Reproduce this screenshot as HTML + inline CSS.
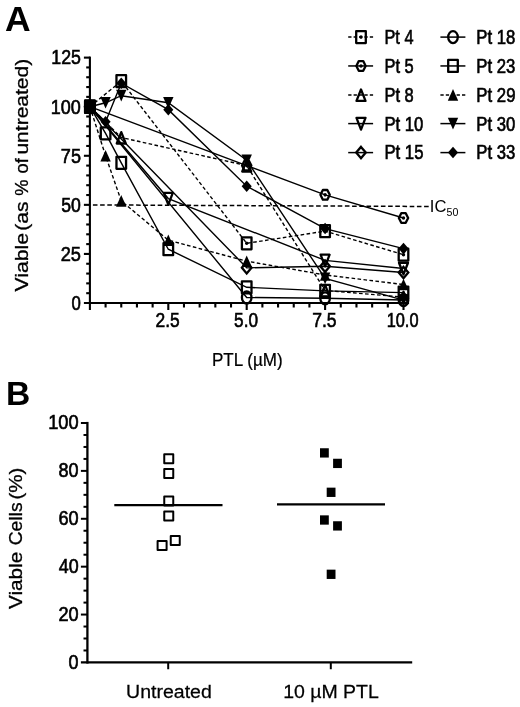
<!DOCTYPE html>
<html><head><meta charset="utf-8"><title>Figure</title>
<style>html,body{margin:0;padding:0;background:#fff;}svg{display:block;will-change:transform;}text{font-family:"Liberation Sans", sans-serif;fill:#000;}</style>
</head><body>
<svg width="520" height="707" viewBox="0 0 520 707">
<rect width="520" height="707" fill="#fff"/>
<text transform="translate(5.01,30.5) scale(1.0387,1)" font-size="34.2" font-weight="bold">A</text>
<text transform="translate(5.93,405.2) scale(1.0002,1)" font-size="33.6" font-weight="bold">B</text>
<g stroke="#000" stroke-width="2.1" fill="none">
<path d="M89.9 56.58 V310"/>
<path d="M83.9 303 H404.55"/>
<path d="M86.2 293.19 H89.9"/>
<path d="M86.2 283.37 H89.9"/>
<path d="M86.2 273.56 H89.9"/>
<path d="M86.2 263.74 H89.9"/>
<path d="M83.9 253.93 H89.9"/>
<path d="M86.2 244.11 H89.9"/>
<path d="M86.2 234.3 H89.9"/>
<path d="M86.2 224.48 H89.9"/>
<path d="M86.2 214.66 H89.9"/>
<path d="M83.9 204.85 H89.9"/>
<path d="M86.2 195.03 H89.9"/>
<path d="M86.2 185.22 H89.9"/>
<path d="M86.2 175.41 H89.9"/>
<path d="M86.2 165.59 H89.9"/>
<path d="M83.9 155.78 H89.9"/>
<path d="M86.2 145.96 H89.9"/>
<path d="M86.2 136.14 H89.9"/>
<path d="M86.2 126.33 H89.9"/>
<path d="M86.2 116.51 H89.9"/>
<path d="M83.9 106.7 H89.9"/>
<path d="M86.2 96.88 H89.9"/>
<path d="M86.2 87.07 H89.9"/>
<path d="M86.2 77.25 H89.9"/>
<path d="M86.2 67.44 H89.9"/>
<path d="M83.9 57.62 H89.9"/>
<path d="M105.58 303 V307.5"/>
<path d="M121.26 303 V307.5"/>
<path d="M136.94 303 V307.5"/>
<path d="M152.62 303 V307.5"/>
<path d="M168.3 303 V310"/>
<path d="M183.98 303 V307.5"/>
<path d="M199.66 303 V307.5"/>
<path d="M215.34 303 V307.5"/>
<path d="M231.02 303 V307.5"/>
<path d="M246.7 303 V310"/>
<path d="M262.38 303 V307.5"/>
<path d="M278.06 303 V307.5"/>
<path d="M293.74 303 V307.5"/>
<path d="M309.42 303 V307.5"/>
<path d="M325.1 303 V310"/>
<path d="M340.78 303 V307.5"/>
<path d="M356.46 303 V307.5"/>
<path d="M372.14 303 V307.5"/>
<path d="M387.82 303 V307.5"/>
<path d="M403.5 303 V310"/>
</g>
<text transform="translate(71.53,309.8) scale(0.8016,1)" font-size="20.9" stroke="#000" stroke-width="0.65">0</text>
<text transform="translate(60.69,260.73) scale(0.8725,1)" font-size="20.9" stroke="#000" stroke-width="0.65">25</text>
<text transform="translate(61.29,211.65) scale(0.8434,1)" font-size="20.9" stroke="#000" stroke-width="0.65">50</text>
<text transform="translate(60.85,162.58) scale(0.8652,1)" font-size="20.9" stroke="#000" stroke-width="0.65">75</text>
<text transform="translate(50.85,113.5) scale(0.8616,1)" font-size="20.9" stroke="#000" stroke-width="0.65">100</text>
<text transform="translate(51.27,64.42) scale(0.8506,1)" font-size="20.9" stroke="#000" stroke-width="0.65">125</text>
<text transform="translate(155.53,327.3) scale(0.8318,1)" font-size="20.9" stroke="#000" stroke-width="0.65">2.5</text>
<text transform="translate(234.11,327.3) scale(0.8239,1)" font-size="20.9" stroke="#000" stroke-width="0.65">5.0</text>
<text transform="translate(312.18,327.3) scale(0.8408,1)" font-size="20.9" stroke="#000" stroke-width="0.65">7.5</text>
<text transform="translate(386.67,327.3) scale(0.7833,1)" font-size="20.9" stroke="#000" stroke-width="0.65">10.0</text>
<text transform="translate(212,366.1) scale(0.8869,1)" font-size="19.2" stroke="#000" stroke-width="0.25">PTL (µM)</text>
<text transform="translate(28.2,291.61) rotate(-90) scale(1.1950,1)" font-size="17.8" stroke="#000" stroke-width="0.3">Viable</text>
<text transform="translate(28.2,230.82) rotate(-90) scale(1.1910,1)" font-size="17.8" stroke="#000" stroke-width="0.3">(as</text>
<text transform="translate(28.2,195.84) rotate(-90) scale(1.0239,1)" font-size="17.8" stroke="#000" stroke-width="0.3">%</text>
<text transform="translate(28.2,173.48) rotate(-90) scale(1.0279,1)" font-size="17.8" stroke="#000" stroke-width="0.3">of</text>
<text transform="translate(28.2,154.57) rotate(-90) scale(1.1819,1)" font-size="17.8" stroke="#000" stroke-width="0.3">untreated)</text>
<path d="M92.9 204.9 L428.8 206.5" stroke="#000" stroke-width="1.5" stroke-dasharray="4.6 2.6" fill="none"/>
<text transform="translate(429.86,211.9) scale(1.0000,1)" font-size="16.6">IC</text>
<text transform="translate(446.57,215.9) scale(1.0244,1)" font-size="10.4">50</text>
<path d="M89.9 106.7 L121.26 81.18 L246.7 243.32 L325.1 231.15 L403.5 254.71" fill="none" stroke="#000" stroke-width="1.4" stroke-dasharray="3.6 2.4"/>
<path d="M89.9 106.7 L246.7 165.59 L325.1 194.84 L403.5 218" fill="none" stroke="#000" stroke-width="1.4"/>
<path d="M89.9 106.7 L121.26 137.52 L246.7 165.59 L325.1 290.44 L403.5 297.11" fill="none" stroke="#000" stroke-width="1.4" stroke-dasharray="3.6 2.4"/>
<path d="M89.9 106.7 L168.3 198.57 L325.1 260.4 L403.5 268.45" fill="none" stroke="#000" stroke-width="1.4"/>
<path d="M89.9 106.7 L246.7 267.86 L325.1 266.29 L403.5 272.57" fill="none" stroke="#000" stroke-width="1.4"/>
<path d="M89.9 106.7 L246.7 297.5 L325.1 298.29 L403.5 300.06" fill="none" stroke="#000" stroke-width="1.4"/>
<path d="M89.9 106.7 L105.58 133.4 L121.26 162.84 L168.3 249.21 L246.7 287.3 L325.1 290.83 L403.5 292.6" fill="none" stroke="#000" stroke-width="1.4"/>
<path d="M89.9 106.7 L105.58 155.78 L121.26 200.92 L168.3 240.18 L246.7 261.19 L325.1 274.93 L403.5 284.55" fill="none" stroke="#000" stroke-width="1.4" stroke-dasharray="3.6 2.4"/>
<path d="M89.9 106.7 L105.58 102.77 L121.26 95.71 L168.3 102.77 L246.7 160.29 L325.1 278.46 L403.5 300.06" fill="none" stroke="#000" stroke-width="1.4"/>
<path d="M89.9 106.7 L105.58 121.82 L121.26 83.14 L168.3 109.64 L246.7 186.2 L325.1 228.6 L403.5 248.62" fill="none" stroke="#000" stroke-width="1.4"/>
<rect x="85.1" y="100.7" width="9.6" height="12" fill="none" stroke="#000" stroke-width="2.3" stroke-linejoin="round"/>
<ellipse cx="89.9" cy="106.7" rx="1.7" ry="1.8" fill="#000"/>
<rect x="116.46" y="75.18" width="9.6" height="12" fill="none" stroke="#000" stroke-width="2.3" stroke-linejoin="round"/>
<ellipse cx="121.26" cy="81.18" rx="1.7" ry="1.8" fill="#000"/>
<rect x="241.9" y="237.32" width="9.6" height="12" fill="none" stroke="#000" stroke-width="2.3" stroke-linejoin="round"/>
<ellipse cx="246.7" cy="243.32" rx="1.7" ry="1.8" fill="#000"/>
<rect x="320.3" y="225.15" width="9.6" height="12" fill="none" stroke="#000" stroke-width="2.3" stroke-linejoin="round"/>
<ellipse cx="325.1" cy="231.15" rx="1.7" ry="1.8" fill="#000"/>
<rect x="398.7" y="248.71" width="9.6" height="12" fill="none" stroke="#000" stroke-width="2.3" stroke-linejoin="round"/>
<ellipse cx="403.5" cy="254.71" rx="1.7" ry="1.8" fill="#000"/>
<polygon points="85.24,106.7 87.67,101.84 92.13,101.84 94.56,106.7 92.13,111.56 87.67,111.56" fill="none" stroke="#000" stroke-width="2.3" stroke-linejoin="round"/>
<ellipse cx="89.9" cy="106.7" rx="1.7" ry="1.8" fill="#000"/>
<polygon points="242.04,165.59 244.47,160.73 248.93,160.73 251.36,165.59 248.93,170.45 244.47,170.45" fill="none" stroke="#000" stroke-width="2.3" stroke-linejoin="round"/>
<ellipse cx="246.7" cy="165.59" rx="1.7" ry="1.8" fill="#000"/>
<polygon points="320.44,194.84 322.87,189.98 327.33,189.98 329.76,194.84 327.33,199.7 322.87,199.7" fill="none" stroke="#000" stroke-width="2.3" stroke-linejoin="round"/>
<ellipse cx="325.1" cy="194.84" rx="1.7" ry="1.8" fill="#000"/>
<polygon points="398.84,218 401.27,213.14 405.73,213.14 408.16,218 405.73,222.86 401.27,222.86" fill="none" stroke="#000" stroke-width="2.3" stroke-linejoin="round"/>
<ellipse cx="403.5" cy="218" rx="1.7" ry="1.8" fill="#000"/>
<polygon points="89.9,101.3 94.41,112.7 85.39,112.7" fill="none" stroke="#000" stroke-width="2.3" stroke-linejoin="round"/>
<polygon points="121.26,132.12 125.77,143.52 116.75,143.52" fill="none" stroke="#000" stroke-width="2.3" stroke-linejoin="round"/>
<polygon points="246.7,160.19 251.21,171.59 242.19,171.59" fill="none" stroke="#000" stroke-width="2.3" stroke-linejoin="round"/>
<polygon points="325.1,285.04 329.61,296.44 320.59,296.44" fill="none" stroke="#000" stroke-width="2.3" stroke-linejoin="round"/>
<polygon points="403.5,291.71 408.01,303.11 398.99,303.11" fill="none" stroke="#000" stroke-width="2.3" stroke-linejoin="round"/>
<polygon points="89.9,112.7 94.41,101 85.39,101" fill="none" stroke="#000" stroke-width="2.3" stroke-linejoin="round"/>
<polygon points="168.3,204.57 172.81,192.87 163.79,192.87" fill="none" stroke="#000" stroke-width="2.3" stroke-linejoin="round"/>
<polygon points="325.1,266.4 329.61,254.7 320.59,254.7" fill="none" stroke="#000" stroke-width="2.3" stroke-linejoin="round"/>
<polygon points="403.5,274.45 408.01,262.75 398.99,262.75" fill="none" stroke="#000" stroke-width="2.3" stroke-linejoin="round"/>
<polygon points="89.9,101 94.7,106.7 89.9,112.4 85.1,106.7" fill="none" stroke="#000" stroke-width="2.3" stroke-linejoin="miter"/>
<polygon points="246.7,262.16 251.5,267.86 246.7,273.56 241.9,267.86" fill="none" stroke="#000" stroke-width="2.3" stroke-linejoin="miter"/>
<polygon points="325.1,260.59 329.9,266.29 325.1,271.99 320.3,266.29" fill="none" stroke="#000" stroke-width="2.3" stroke-linejoin="miter"/>
<polygon points="403.5,266.87 408.3,272.57 403.5,278.27 398.7,272.57" fill="none" stroke="#000" stroke-width="2.3" stroke-linejoin="miter"/>
<ellipse cx="89.9" cy="106.7" rx="4.8" ry="6" fill="none" stroke="#000" stroke-width="2.3"/>
<ellipse cx="246.7" cy="297.5" rx="4.8" ry="6" fill="none" stroke="#000" stroke-width="2.3"/>
<ellipse cx="325.1" cy="298.29" rx="4.8" ry="6" fill="none" stroke="#000" stroke-width="2.3"/>
<ellipse cx="403.5" cy="300.06" rx="4.8" ry="6" fill="none" stroke="#000" stroke-width="2.3"/>
<rect x="85.1" y="100.7" width="9.6" height="12" fill="none" stroke="#000" stroke-width="2.3" stroke-linejoin="round"/>
<rect x="100.78" y="127.4" width="9.6" height="12" fill="none" stroke="#000" stroke-width="2.3" stroke-linejoin="round"/>
<rect x="116.46" y="156.84" width="9.6" height="12" fill="none" stroke="#000" stroke-width="2.3" stroke-linejoin="round"/>
<rect x="163.5" y="243.21" width="9.6" height="12" fill="none" stroke="#000" stroke-width="2.3" stroke-linejoin="round"/>
<rect x="241.9" y="281.3" width="9.6" height="12" fill="none" stroke="#000" stroke-width="2.3" stroke-linejoin="round"/>
<rect x="320.3" y="284.83" width="9.6" height="12" fill="none" stroke="#000" stroke-width="2.3" stroke-linejoin="round"/>
<rect x="398.7" y="286.6" width="9.6" height="12" fill="none" stroke="#000" stroke-width="2.3" stroke-linejoin="round"/>
<polygon points="89.9,100.9 95.1,112.5 84.7,112.5" fill="#000"/>
<polygon points="105.58,149.97 110.78,161.58 100.38,161.58" fill="#000"/>
<polygon points="121.26,195.12 126.46,206.72 116.06,206.72" fill="#000"/>
<polygon points="168.3,234.38 173.5,245.98 163.1,245.98" fill="#000"/>
<polygon points="246.7,255.39 251.9,266.99 241.5,266.99" fill="#000"/>
<polygon points="325.1,269.13 330.3,280.73 319.9,280.73" fill="#000"/>
<polygon points="403.5,278.75 408.7,290.35 398.3,290.35" fill="#000"/>
<polygon points="89.9,112.55 95.1,100.85 84.7,100.85" fill="#000"/>
<polygon points="105.58,108.62 110.78,96.92 100.38,96.92" fill="#000"/>
<polygon points="121.26,101.56 126.46,89.86 116.06,89.86" fill="#000"/>
<polygon points="168.3,108.62 173.5,96.92 163.1,96.92" fill="#000"/>
<polygon points="246.7,166.14 251.9,154.44 241.5,154.44" fill="#000"/>
<polygon points="325.1,284.31 330.3,272.61 319.9,272.61" fill="#000"/>
<polygon points="403.5,305.91 408.7,294.21 398.3,294.21" fill="#000"/>
<polygon points="89.9,100.93 94.95,106.7 89.9,112.47 84.85,106.7" fill="#000"/>
<polygon points="105.58,116.05 110.63,121.82 105.58,127.58 100.53,121.82" fill="#000"/>
<polygon points="121.26,77.38 126.31,83.14 121.26,88.91 116.21,83.14" fill="#000"/>
<polygon points="168.3,103.88 173.35,109.64 168.3,115.41 163.25,109.64" fill="#000"/>
<polygon points="246.7,180.43 251.75,186.2 246.7,191.97 241.65,186.2" fill="#000"/>
<polygon points="325.1,222.83 330.15,228.6 325.1,234.37 320.05,228.6" fill="#000"/>
<polygon points="403.5,242.86 408.55,248.62 403.5,254.39 398.45,248.62" fill="#000"/>
<rect x="84.1" y="99.9" width="11.6" height="13.6" fill="#000"/>
<path d="M348.2 37.1 H373.1" fill="none" stroke="#000" stroke-width="1.5" stroke-dasharray="3.3 2.1"/>
<rect x="356.2" y="31.1" width="9.6" height="12" fill="none" stroke="#000" stroke-width="2.3" stroke-linejoin="round"/>
<ellipse cx="361" cy="37.1" rx="1.7" ry="1.8" fill="#000"/>
<text transform="translate(384.45,44) scale(0.8035,1)" font-size="20.3" stroke="#000" stroke-width="0.65">Pt 4</text>
<path d="M348.2 65.95 H373.1" fill="none" stroke="#000" stroke-width="1.5"/>
<polygon points="356.34,65.95 358.77,61.09 363.23,61.09 365.66,65.95 363.23,70.81 358.77,70.81" fill="none" stroke="#000" stroke-width="2.3" stroke-linejoin="round"/>
<ellipse cx="361" cy="65.95" rx="1.7" ry="1.8" fill="#000"/>
<text transform="translate(384.44,72.8) scale(0.8096,1)" font-size="20.3" stroke="#000" stroke-width="0.65">Pt 5</text>
<path d="M348.2 94.9 H373.1" fill="none" stroke="#000" stroke-width="1.5" stroke-dasharray="3.3 2.1"/>
<polygon points="361,89.5 365.51,100.9 356.49,100.9" fill="none" stroke="#000" stroke-width="2.3" stroke-linejoin="round"/>
<text transform="translate(384.44,101.7) scale(0.8108,1)" font-size="20.3" stroke="#000" stroke-width="0.65">Pt 8</text>
<path d="M348.2 123.6 H373.1" fill="none" stroke="#000" stroke-width="1.5"/>
<polygon points="361,129.6 365.51,117.9 356.49,117.9" fill="none" stroke="#000" stroke-width="2.3" stroke-linejoin="round"/>
<text transform="translate(384.42,130.6) scale(0.8229,1)" font-size="20.3" stroke="#000" stroke-width="0.65">Pt 10</text>
<path d="M348.2 152.6 H373.1" fill="none" stroke="#000" stroke-width="1.5"/>
<polygon points="361,146.9 365.8,152.6 361,158.3 356.2,152.6" fill="none" stroke="#000" stroke-width="2.3" stroke-linejoin="miter"/>
<text transform="translate(384.42,159.3) scale(0.8238,1)" font-size="20.3" stroke="#000" stroke-width="0.65">Pt 15</text>
<path d="M440.4 37.1 H465.4" fill="none" stroke="#000" stroke-width="1.5"/>
<ellipse cx="453" cy="37.1" rx="4.8" ry="6" fill="none" stroke="#000" stroke-width="2.3"/>
<text transform="translate(476.32,44) scale(0.8247,1)" font-size="20.3" stroke="#000" stroke-width="0.65">Pt 18</text>
<path d="M440.4 65.95 H465.4" fill="none" stroke="#000" stroke-width="1.5"/>
<rect x="448.2" y="59.95" width="9.6" height="12" fill="none" stroke="#000" stroke-width="2.3" stroke-linejoin="round"/>
<text transform="translate(476.32,72.8) scale(0.8247,1)" font-size="20.3" stroke="#000" stroke-width="0.65">Pt 23</text>
<path d="M440.4 94.9 H465.4" fill="none" stroke="#000" stroke-width="1.5" stroke-dasharray="3.3 2.1"/>
<polygon points="453,89.1 458.2,100.7 447.8,100.7" fill="#000"/>
<text transform="translate(476.32,101.7) scale(0.8257,1)" font-size="20.3" stroke="#000" stroke-width="0.65">Pt 29</text>
<path d="M440.4 123.6 H465.4" fill="none" stroke="#000" stroke-width="1.5"/>
<polygon points="453,129.45 458.2,117.75 447.8,117.75" fill="#000"/>
<text transform="translate(476.32,130.6) scale(0.8229,1)" font-size="20.3" stroke="#000" stroke-width="0.65">Pt 30</text>
<path d="M440.4 152.6 H465.4" fill="none" stroke="#000" stroke-width="1.5"/>
<polygon points="453,146.83 458.05,152.6 453,158.37 447.95,152.6" fill="#000"/>
<text transform="translate(476.32,159.3) scale(0.8247,1)" font-size="20.3" stroke="#000" stroke-width="0.65">Pt 33</text>
<g stroke="#000" stroke-width="2.3" fill="none">
<path d="M87.4 421.9 V663.6"/>
<path d="M80.9 662.45 H412.2"/>
</g>
<g stroke="#000" stroke-width="2" fill="none">
<path d="M83.5 650.48 H87.4"/>
<path d="M83.5 638.5 H87.4"/>
<path d="M83.5 626.53 H87.4"/>
<path d="M80.9 614.56 H87.4"/>
<path d="M83.5 602.59 H87.4"/>
<path d="M83.5 590.62 H87.4"/>
<path d="M83.5 578.64 H87.4"/>
<path d="M80.9 566.67 H87.4"/>
<path d="M83.5 554.7 H87.4"/>
<path d="M83.5 542.73 H87.4"/>
<path d="M83.5 530.75 H87.4"/>
<path d="M80.9 518.78 H87.4"/>
<path d="M83.5 506.81 H87.4"/>
<path d="M83.5 494.84 H87.4"/>
<path d="M83.5 482.86 H87.4"/>
<path d="M80.9 470.89 H87.4"/>
<path d="M83.5 458.92 H87.4"/>
<path d="M83.5 446.95 H87.4"/>
<path d="M83.5 434.97 H87.4"/>
<path d="M80.9 423 H87.4"/>
<path d="M168.2 662.45 V669.25"/>
<path d="M330.8 662.45 V669.25"/>
</g>
<text transform="translate(68.58,668.85) scale(0.8617,1)" font-size="20.9" stroke="#000" stroke-width="0.65">0</text>
<text transform="translate(58.39,620.96) scale(0.8704,1)" font-size="20.9" stroke="#000" stroke-width="0.65">20</text>
<text transform="translate(58.7,573.07) scale(0.8567,1)" font-size="20.9" stroke="#000" stroke-width="0.65">40</text>
<text transform="translate(58.39,525.18) scale(0.8704,1)" font-size="20.9" stroke="#000" stroke-width="0.65">60</text>
<text transform="translate(58.53,477.29) scale(0.8640,1)" font-size="20.9" stroke="#000" stroke-width="0.65">80</text>
<text transform="translate(48.13,429.4) scale(0.8739,1)" font-size="20.9" stroke="#000" stroke-width="0.65">100</text>
<text transform="translate(126.09,698.2) scale(1.0225,1)" font-size="19.1" stroke="#000" stroke-width="0.25">Untreated</text>
<text transform="translate(283.14,698.2) scale(1.0204,1)" font-size="19.1" stroke="#000" stroke-width="0.25">10 µM PTL</text>
<text transform="translate(22.3,609.1) rotate(-90) scale(1.1551,1)" font-size="18" stroke="#000" stroke-width="0.3">Viable</text>
<text transform="translate(22.3,545.37) rotate(-90) scale(1.0734,1)" font-size="18" stroke="#000" stroke-width="0.3">Cells</text>
<text transform="translate(22.3,499.58) rotate(-90) scale(1.1422,1)" font-size="18" stroke="#000" stroke-width="0.3">(%)</text>
<path d="M114.3 505.2 H222.5" stroke="#000" stroke-width="2.3" fill="none"/>
<path d="M277 504.3 H385" stroke="#000" stroke-width="2.3" fill="none"/>
<rect x="164.25" y="454.25" width="9" height="9" fill="none" stroke="#000" stroke-width="2" stroke-linejoin="round"/>
<rect x="164.25" y="469.1" width="9" height="9" fill="none" stroke="#000" stroke-width="2" stroke-linejoin="round"/>
<rect x="164.25" y="496.4" width="9" height="9" fill="none" stroke="#000" stroke-width="2" stroke-linejoin="round"/>
<rect x="164.25" y="511.4" width="9" height="9" fill="none" stroke="#000" stroke-width="2" stroke-linejoin="round"/>
<rect x="170.75" y="535.9" width="9" height="9" fill="none" stroke="#000" stroke-width="2" stroke-linejoin="round"/>
<rect x="157.6" y="540.9" width="9" height="9" fill="none" stroke="#000" stroke-width="2" stroke-linejoin="round"/>
<rect x="320" y="448.25" width="8.8" height="9.3" fill="#000"/>
<rect x="333.1" y="458.75" width="8.8" height="9.3" fill="#000"/>
<rect x="326.7" y="487.65" width="8.8" height="9.3" fill="#000"/>
<rect x="320" y="515.35" width="8.8" height="9.3" fill="#000"/>
<rect x="333.1" y="521.25" width="8.8" height="9.3" fill="#000"/>
<rect x="326.7" y="569.65" width="8.8" height="9.3" fill="#000"/>
</svg>
</body></html>
